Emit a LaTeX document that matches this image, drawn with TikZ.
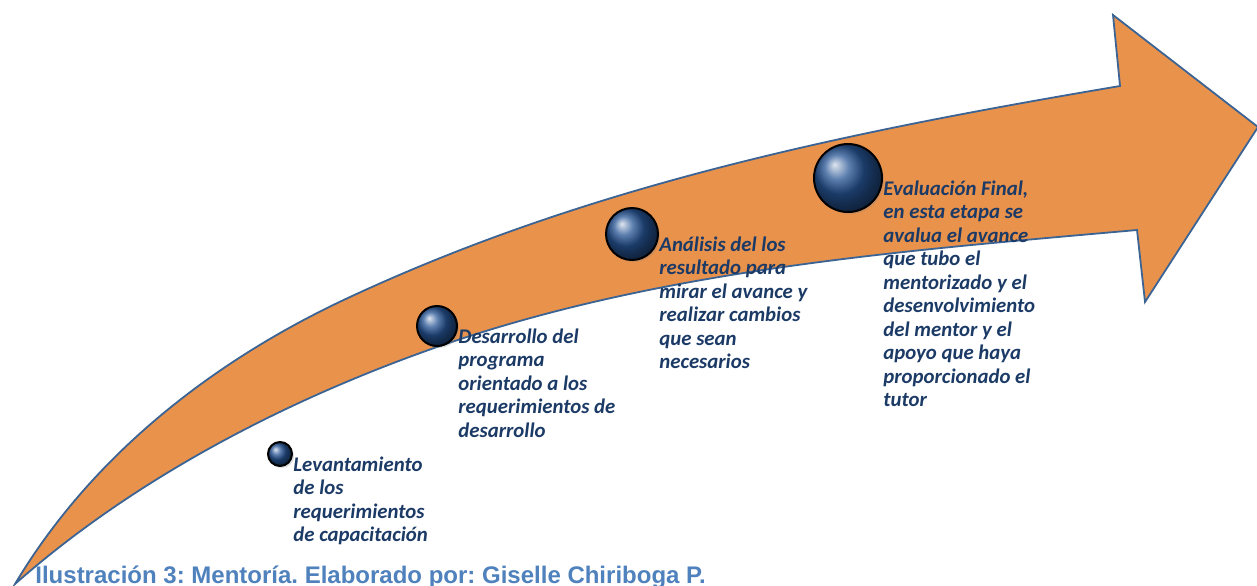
\documentclass[tikz,border=0pt]{standalone}
\usepackage{fontspec}
\setmainfont{Carlito}
\newfontfamily\capfont{Liberation Sans}
\usetikzlibrary{positioning,shadows}
\definecolor{arroworange}{RGB}{233,146,76}
\definecolor{arrowedge}{RGB}{59,100,148}
\definecolor{sphereblue}{RGB}{38,84,148}
\definecolor{stagenavy}{RGB}{27,58,102}
\definecolor{capblue}{RGB}{79,129,189}
\frenchspacing
\begin{document}
\begin{tikzpicture}[x=0.5pt,y=-0.5pt,
		arrowbody/.style={fill=arroworange,draw=arrowedge,line width=0.9pt,line join=miter},
		sphere/.style={circle,draw=black,line width=1pt,shading=ball,ball color=sphereblue,inner sep=0pt,
			drop shadow={opacity=0.25,shadow xshift=1pt,shadow yshift=-1pt}},
		stagetext/.style={align=left,inner sep=0pt,text=stagenavy,
			font=\fontsize{10.4}{11.75}\selectfont\bfseries\itshape}]
\useasboundingbox (0,0) rectangle (1257,585);
% curved arrow
\path[arrowbody] (15,584) .. controls (92,455) and (214,360) .. (350,297)
	.. controls (595,183) and (854,131) .. (1120,86)
	-- (1113,15) -- (1258,127) -- (1145,302) -- (1137,230)
	.. controls (901,251) and (661,269) .. (437,347)
	.. controls (286,400) and (135,478) .. (15,584) -- cycle;
% stages
\node[sphere,minimum size=12pt] (b1) at (280,454) {};
\node[sphere,minimum size=20pt] (b2) at (437,326) {};
\node[sphere,minimum size=26pt] (b3) at (632,234) {};
\node[sphere,minimum size=34pt] (b4) at (848,178) {};
\node[stagetext,below right=1pt and 0pt of b1.east] (t1) {Levantamiento\\de los\\requerimientos\\de capacitación};
\node[stagetext,below right=1pt and 0pt of b2.east] (t2) {Desarrollo del\\programa\\orientado a los\\requerimientos de\\desarrollo};
\node[stagetext,below right=1pt and 0pt of b3.east] (t3) {Análisis del los\\resultado para\\mirar el avance y\\realizar cambios\\que sean\\necesarios};
\node[stagetext,below right=1pt and 0pt of b4.east] (t4) {Evaluación Final,\\en esta etapa se\\avalua el avance\\que tubo el\\mentorizado y el\\desenvolvimiento\\del mentor y el\\apoyo que haya\\proporcionado el\\tutor};
% caption
\node[anchor=base west,inner sep=0pt,text=capblue,font=\capfont\fontsize{12}{14}\selectfont\bfseries] (caption) at (35,583)
	{Ilustración 3: Mentoría. Elaborado por: Giselle Chiriboga P.};
\end{tikzpicture}
\end{document}
